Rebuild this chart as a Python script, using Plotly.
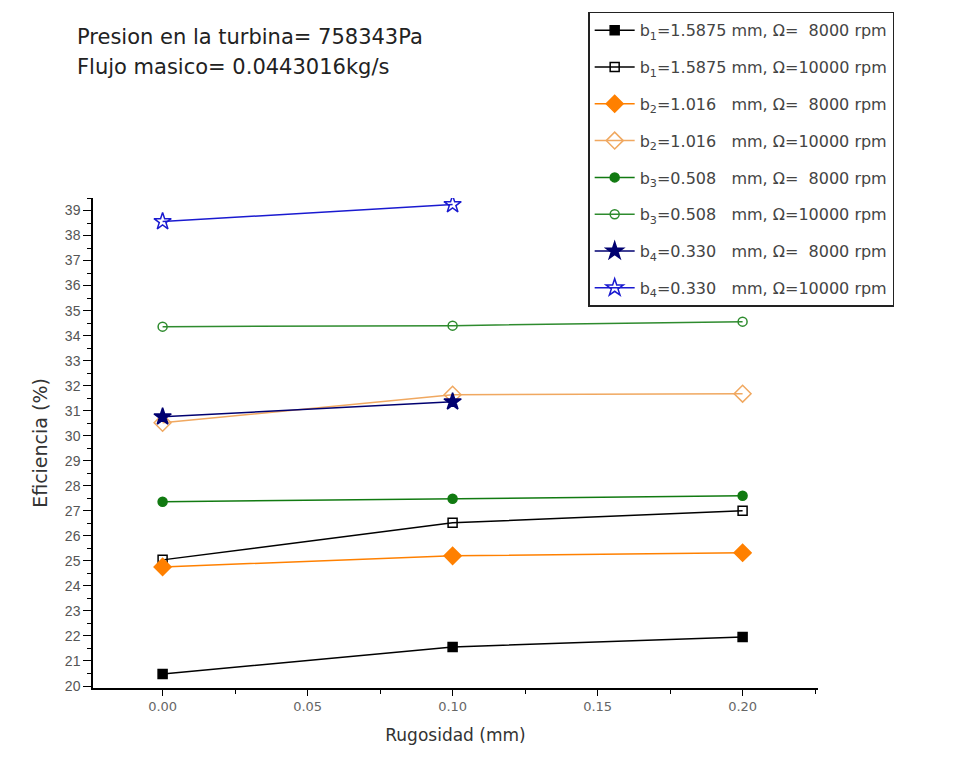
import plotly.graph_objects as go

rugosidad = [0.0, 0.1, 0.2]
rugosidad_b4 = [0.0, 0.1]

b1_8000 = [20.48, 21.56, 21.96]
b1_10000 = [25.04, 26.52, 27.0]
b2_8000 = [24.76, 25.2, 25.32]
b2_10000 = [30.52, 31.64, 31.68]
b3_8000 = [27.36, 27.48, 27.6]
b3_10000 = [34.36, 34.4, 34.56]
b4_8000 = [30.76, 31.36]
b4_10000 = [38.56, 39.24]

names = [
    "b<sub>1</sub>=1.5875 mm, Ω=  8000 rpm",
    "b<sub>1</sub>=1.5875 mm, Ω=10000 rpm",
    "b<sub>2</sub>=1.016   mm, Ω=  8000 rpm",
    "b<sub>2</sub>=1.016   mm, Ω=10000 rpm",
    "b<sub>3</sub>=0.508   mm, Ω=  8000 rpm",
    "b<sub>3</sub>=0.508   mm, Ω=10000 rpm",
    "b<sub>4</sub>=0.330   mm, Ω=  8000 rpm",
    "b<sub>4</sub>=0.330   mm, Ω=10000 rpm",
]

series = [
    (rugosidad, b1_8000, "#000000", "square", 9),
    (rugosidad, b1_10000, "#000000", "square-open", 9),
    (rugosidad, b2_8000, "#FF8000", "diamond", 13),
    (rugosidad, b2_10000, "#F0A860", "diamond-open", 13),
    (rugosidad, b3_8000, "#117A11", "circle", 9),
    (rugosidad, b3_10000, "#2E8B2E", "circle-open", 9),
    (rugosidad_b4, b4_8000, "#000070", "star", 13),
    (rugosidad_b4, b4_10000, "#1A1AD0", "star-open", 13),
]

fig = go.Figure()
for i, (xs, ys, col, sym, sz) in enumerate(series):
    fig.add_trace(go.Scatter(
        x=xs, y=ys, mode="lines+markers", name=names[i],
        legendgroup=str(i),
        line=dict(color=col, width=1.5),
        marker=dict(symbol=sym, size=sz, color=col, line=dict(color=col, width=1.5)),
    ))

fig.update_layout(
    width=958, height=764,
    margin=dict(l=93, r=140, t=198, b=76),
    paper_bgcolor="white", plot_bgcolor="white",
    font=dict(family="Liberation Sans, Arial, sans-serif", color="#333333"),
    showlegend=True,
    legend=dict(
        x=0.683, y=1.38, xanchor="left", yanchor="top",
        bordercolor="#222222", borderwidth=1.5, bgcolor="white",
        font=dict(size=16, color="#444444", family="DejaVu Sans, sans-serif"),
        traceorder="grouped", tracegroupgap=13,
        itemwidth=40,
    ),
    xaxis=dict(
        range=[-0.024, 0.226], tickvals=[0.0, 0.05, 0.1, 0.15, 0.2],
        tickformat=".2f", ticks="outside", ticklen=6, tickcolor="black",
        showline=True, linecolor="black", linewidth=1.5, showgrid=False, zeroline=False,
        minor=dict(dtick=0.025, tick0=0, ticks="outside", ticklen=4, tickcolor="black"),
        tickfont=dict(size=13, color="#666666", family="DejaVu Sans, sans-serif"),
        title=dict(text="Rugosidad (mm)", font=dict(size=17, color="#333333",
                   family="DejaVu Sans, sans-serif"), standoff=16),
    ),
    yaxis=dict(
        range=[19.92, 39.5], dtick=1, tick0=20, ticks="outside", ticklen=8, tickcolor="black",
        showline=True, linecolor="black", linewidth=1.5, showgrid=False, zeroline=False,
        minor=dict(dtick=0.5, ticks="outside", ticklen=4, tickcolor="black"),
        tickfont=dict(size=14, color="#555555", family="Liberation Sans, Arial, sans-serif"),
        title=dict(text="Eficiencia (%)", font=dict(size=19, color="#333333",
                   family="DejaVu Sans, sans-serif"), standoff=12),
    ),
    annotations=[
        dict(text="Presion en la turbina= 758343Pa", xref="paper", yref="paper",
             x=-0.025, y=1.3286, xanchor="left", yanchor="middle", showarrow=False,
             font=dict(size=21, color="#222222", family="DejaVu Sans, sans-serif")),
        dict(text="Flujo masico= 0.0443016kg/s", xref="paper", yref="paper",
             x=-0.025, y=1.267, xanchor="left", yanchor="middle", showarrow=False,
             font=dict(size=21, color="#222222", family="DejaVu Sans, sans-serif")),
    ],
)

fig.write_html("out.html")
